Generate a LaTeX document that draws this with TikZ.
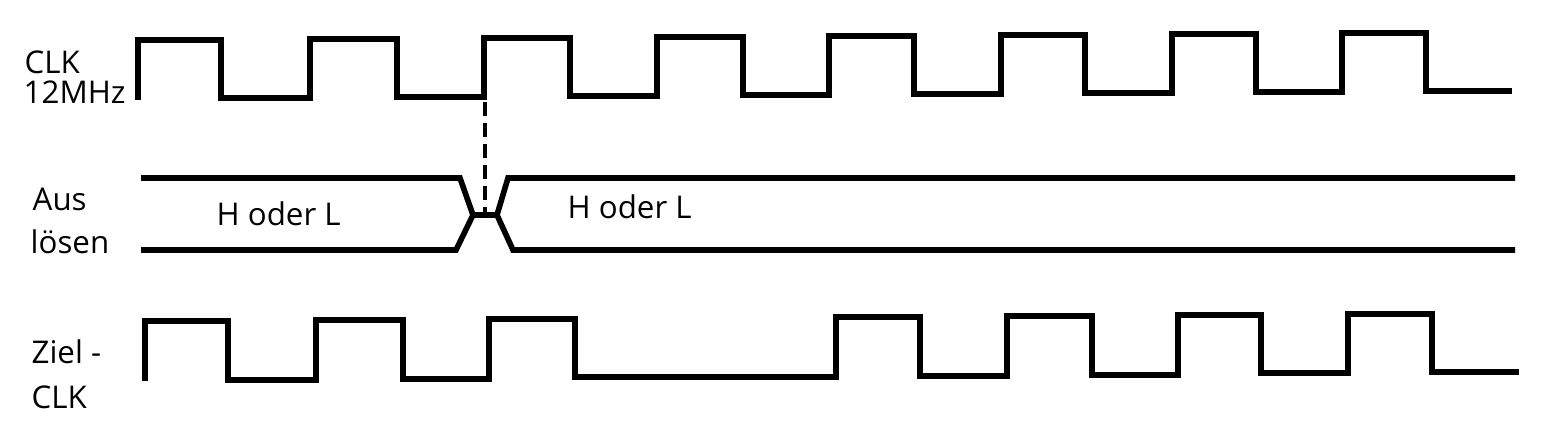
\documentclass[tikz,border=0pt]{standalone}
\usepackage{fontspec}
\setmainfont{Open Sans}
\usetikzlibrary{positioning}

\begin{document}
\begin{tikzpicture}[x=0.01cm, y=-0.01cm,
                    wave/.style={line width=1.6pt, line join=miter},
                    sync/.style={line width=1pt, dash pattern=on 0.14cm off 0.07cm},
                    every node/.style={font=\fontsize{8.9pt}{10pt}\selectfont, inner sep=0pt,
                                       text height=0.2cm, text depth=0pt, anchor=base west}]
    %\draw[help lines] (0,0) grid[step=100] (1541,447);
    \useasboundingbox (0,0) rectangle (1541,447);

   % Labels
   \node (clk_a)  at (24,73)  {CLK};
   \node (clk_b)  at (23,103) {12MHz};
   \node (aus_a)  at (32,210) {Aus};
   \node (aus_b)  at (30,253) {lösen};
   \node (ziel_a) at (31,363) {Ziel -};
   \node (ziel_b) at (31,408) {CLK};

   % CLK 12MHz
   \draw[wave] (138,100) -- (138,40) -- (221,40) -- (221,98) -- (310,98) -- (310,39)
       -- (397,39) -- (397,97) -- (484,97) -- (484,38) -- (570,38) -- (570,96)
       -- (657,96) -- (657,37) -- (743,37) -- (743,95) -- (829,95) -- (829,36)
       -- (914,36) -- (914,94) -- (1001,94) -- (1001,35) -- (1085,35) -- (1085,93)
       -- (1172,93) -- (1172,34) -- (1256,34) -- (1256,92) -- (1342,92) -- (1342,33)
       -- (1426,33) -- (1426,91) -- (1512,91);

   % Ausloesen
   \draw[wave] (141,178) -- (460,178) -- (473,215) -- (497,215) -- (508,178) -- (1515,178);
   \draw[wave] (141,250) -- (456,250) -- (473,215);
   \draw[wave] (497,215) -- (513,250) -- (1515,250);
   \node (val_left)  at (216,225) {H oder L};
   \node (val_right) at (567,218) {H oder L};
   \draw[sync] (485,102) -- (485,215);

   % Ziel-CLK
   \draw[wave] (145,381) -- (145,321) -- (228,321) -- (228,380) -- (316,380) -- (316,320)
       -- (403,320) -- (403,379) -- (489,379) -- (489,319) -- (575,319) -- (575,377)
       -- (836,377) -- (836,317) -- (920,317) -- (920,376) -- (1007,376) -- (1007,316)
       -- (1092,316) -- (1092,375) -- (1178,375) -- (1178,315) -- (1261,315) -- (1261,373)
       -- (1348,373) -- (1348,314) -- (1432,314) -- (1432,372) -- (1519,372);

\end{tikzpicture}
\end{document}
